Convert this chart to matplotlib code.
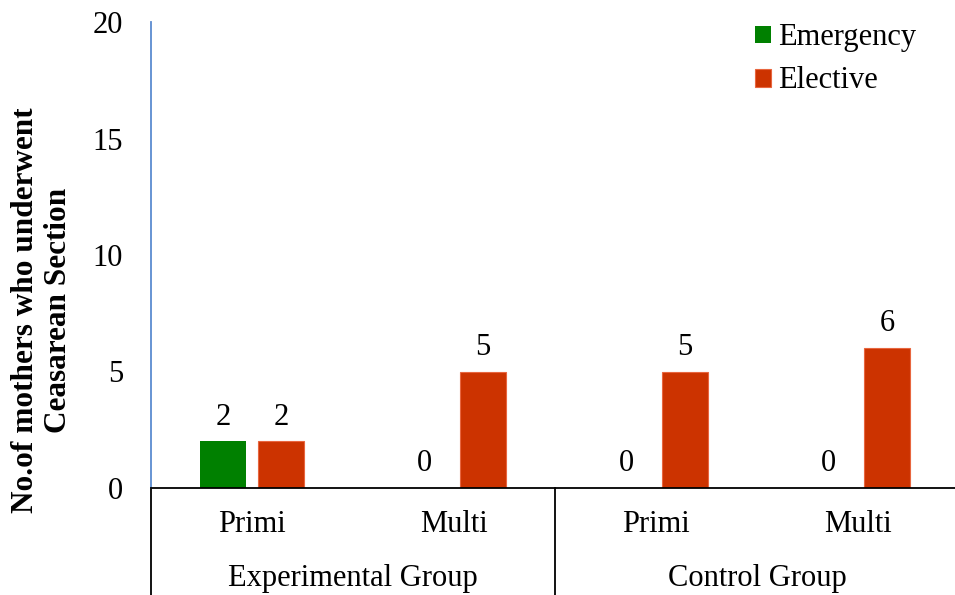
import numpy as np
import matplotlib.pyplot as plt

# ---- Data
parity = ["Primi", "Multi", "Primi", "Multi"]
groups = ["Experimental Group", "Control Group"]
emergency = [2, 0, 0, 0]
elective = [2, 5, 5, 6]

GREEN = "#008000"
RED = "#CC3300"
FS = 22

plt.rcParams["font.family"] = ["Liberation Serif", "DejaVu Serif"]
plt.rcParams["font.size"] = FS

fig = plt.figure(figsize=(9.55, 5.95), dpi=100)
ax = fig.add_axes([151 / 955, 107 / 595, 808 / 955, 466 / 595])

x = np.arange(len(parity))
w = 0.228
off = 0.144
b1 = ax.bar(x - off, emergency, w, color=GREEN, label="Emergency")
b2 = ax.bar(x + off, elective, w, color=RED, edgecolor="#E8663F",
            linewidth=0.8, label="Elective")

for bars, vals in ((b1, emergency), (b2, elective)):
    for r, v in zip(bars, vals):
        ax.annotate(str(v), (r.get_x() + r.get_width() / 2, v),
                    xytext=(0, 7), textcoords="offset points",
                    ha="center", va="bottom", fontsize=FS)

ax.set_xlim(-0.5, len(parity) - 0.5)
ax.set_ylim(0, 20)
ax.set_yticks([0, 5, 10, 15, 20])
ax.tick_params(axis="y", length=0, pad=20, labelsize=FS)
ax.set_xticks([])

for s in ("top", "right"):
    ax.spines[s].set_visible(False)
ax.spines["left"].set_color("#5B8BD0")
ax.spines["left"].set_linewidth(1.3)
ax.spines["bottom"].set_color("black")
ax.spines["bottom"].set_linewidth(1.3)

# multi-level category labels below the axis
tr = ax.get_xaxis_transform()
for i, lab in enumerate(parity):
    ax.text(i, -0.078, lab, transform=tr, ha="center", va="center", fontsize=FS)
for g, lab in enumerate(groups):
    ax.text(2 * g + 0.5, -0.195, lab, transform=tr, ha="center", va="center",
            fontsize=FS)
for xd in (-0.5, 1.5, 3.5):
    ax.plot([xd, xd], [0, -0.25], transform=tr, color="black", lw=1.3,
            clip_on=False)

fig.text(42 / 955, 0.478, "No.of mothers who underwent\nCeasarean Section",
         rotation=90, ha="center", va="center", fontweight="bold",
         fontsize=22.5, multialignment="center", linespacing=1.15)

ax.legend(loc="upper left", bbox_to_anchor=(0.7475, 0.997), frameon=False,
          fontsize=FS, handlelength=0.52, handleheight=0.52,
          handletextpad=0.25, labelspacing=0.46, borderpad=0,
          borderaxespad=0)

fig.savefig("out.png", dpi=100)
